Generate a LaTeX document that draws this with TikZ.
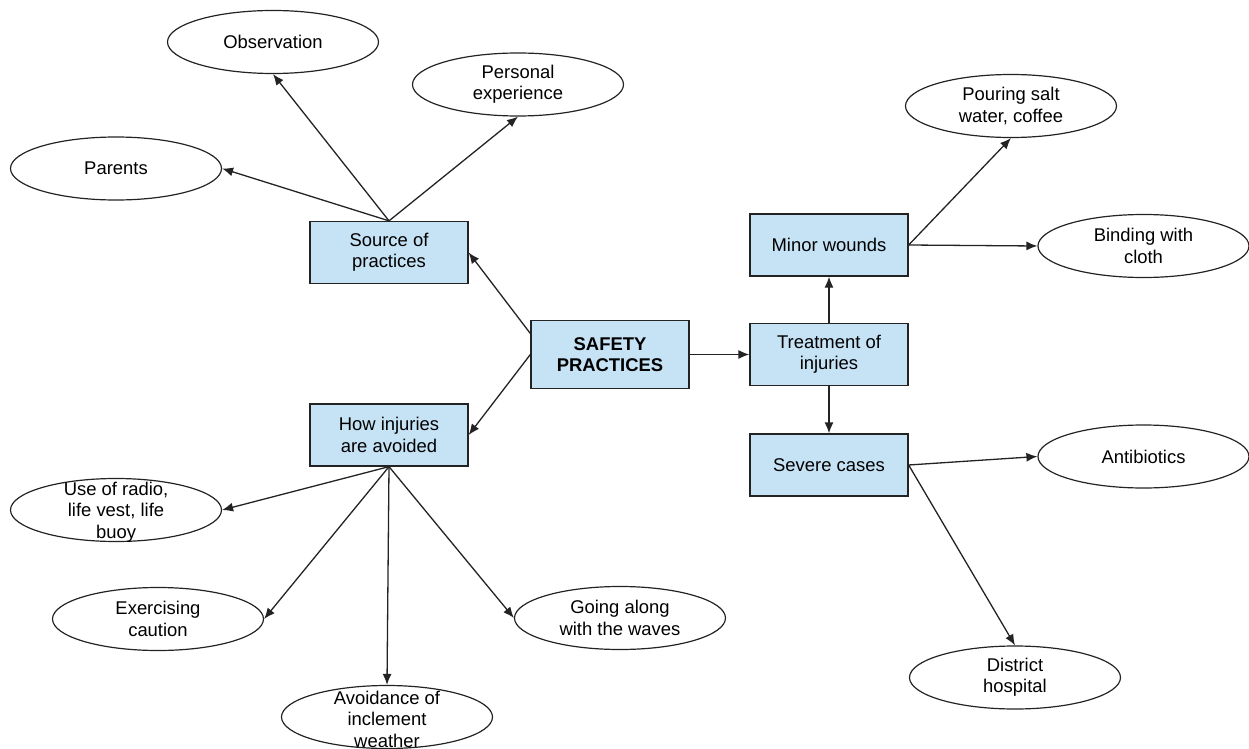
\documentclass[tikz,border=0pt]{standalone}
\usepackage{fontspec}
\setmainfont{Liberation Sans}
\usetikzlibrary{shapes.geometric,arrows.meta,calc}
\definecolor{boxblue}{RGB}{198,226,245}
\definecolor{lineg}{RGB}{35,35,35}
\newcommand{\fsz}{\fontsize{18.5}{21.5}\selectfont}
\begin{document}
\begin{tikzpicture}[x=1bp,y=-1bp,
  box/.style={rectangle, draw=lineg, fill=boxblue, line width=1.3bp, minimum width=158bp, minimum height=62bp, align=center, inner sep=2bp, font=\fsz},
  ell/.style={ellipse, draw=lineg, line width=1.2bp, minimum width=211bp, minimum height=63bp, inner sep=0pt, align=center, font=\fsz},
  txt/.style={align=center, inner sep=0pt, font=\fsz},
  arr/.style={draw=lineg, line width=1.3bp, -{Latex[length=11bp,width=9bp]}}]
\useasboundingbox (0,0) rectangle (1249,749);

% boxes
\node[box] (src) at (389,252.5) {Source of\\practices};
\node[box, minimum height=68bp, font=\fsz\bfseries] (safe) at (610,354.5) {SAFETY\\PRACTICES};
\node[box] (how) at (389,435) {How injuries\\are avoided};
\node[box] (treat) at (829,354.5) {Treatment of\\injuries};
\node[box] (minor) at (829,245) {Minor wounds};
\node[box] (severe) at (829,465) {Severe cases};

% ellipses
\node[ell] (obs) at (273,42) {Observation};
\node[ell] (pers) at (518,84.5) {Personal\\experience};
\node[ell] (par) at (116,168.5) {Parents};
\node[ell] (radio) at (116,510) {};
\node[txt] (radiot) at (116,512) {Use of radio,\\life vest, life\\buoy};
\node[ell] (exer) at (158,619) {Exercising\\caution};
\node[ell] (avoid) at (387,717) {};
\node[txt] (avoidt) at (387,719) {Avoidance of\\inclement\\weather};
\node[ell] (waves) at (620,618) {Going along\\with the waves};
\node[ell] (pour) at (1011,106) {Pouring salt\\water, coffee};
\node[ell] (bind) at (1143.5,246) {Binding with\\cloth};
\node[ell] (anti) at (1143.5,456.5) {Antibiotics};
\node[ell] (dist) at (1015,677.5) {District\\hospital};

% connectors
\draw[arr] (src.north) -- (obs.south);
\draw[arr] (src.north) -- (pers.south);
\draw[arr] (src.north) -- (par.east);
\draw[arr] ($(safe.west)+(0,-21)$) -- (src.east);
\draw[arr] (safe.west) -- (how.east);
\draw[arr] (safe.east) -- (treat.west);
\draw[arr] (treat.north) -- (minor.south);
\draw[arr] (treat.south) -- (severe.north);
\draw[arr] (minor.east) -- (pour.south);
\draw[arr] (minor.east) -- (bind.west);
\draw[arr] (severe.east) -- (anti.west);
\draw[arr] (severe.east) -- (dist.north);
\draw[arr] (how.south) -- (radio.east);
\draw[arr] (how.south) -- (exer.east);
\draw[arr] (how.south) -- (avoid.north);
\draw[arr] (how.south) -- (waves.west);
\end{tikzpicture}
\end{document}
